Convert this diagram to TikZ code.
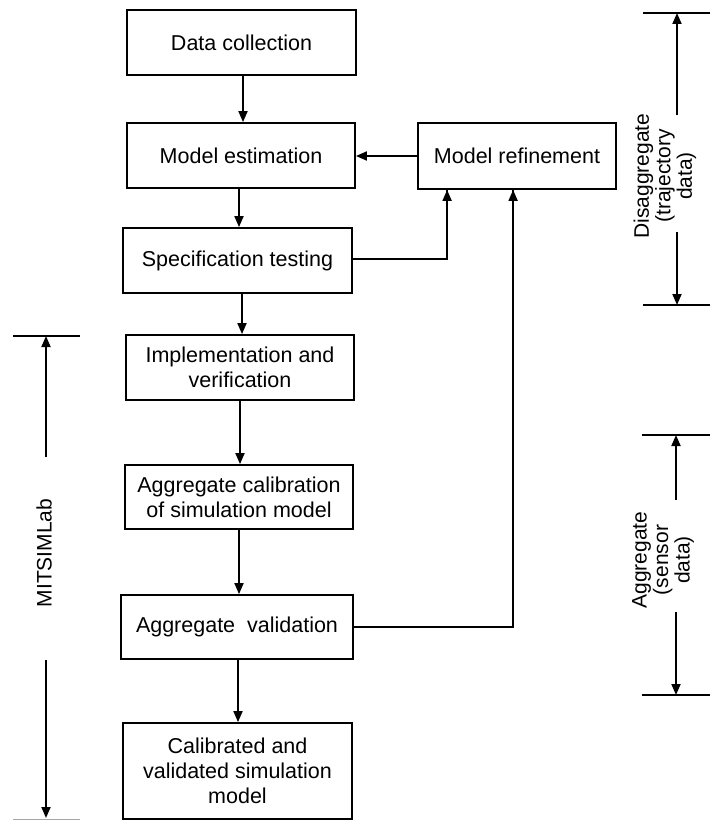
\documentclass[tikz,border=0pt]{standalone}
\usepackage{fontspec}
\setmainfont{Liberation Sans}
\usetikzlibrary{arrows.meta,calc}
\begin{document}
\begin{tikzpicture}[x=1pt,y=-1pt,
  stepbox/.style={draw,line width=1.8pt,inner sep=0pt,align=center,
    font=\fontsize{21.5}{25}\selectfont},
  flow/.style={line width=1.8pt,-{Triangle[length=11pt,width=9pt]}},
  link/.style={line width=1.8pt},
  rule/.style={line width=1.8pt},
  sidelabel/.style={rotate=90,align=center,inner sep=0pt,
    font=\fontsize{21}{21.5}\selectfont}]
\useasboundingbox (0,0) rectangle (712,821);

% main sequence of steps
\node[stepbox,minimum width=229pt,minimum height=65pt] (dc) at (241.5,42.5) {Data collection};
\node[stepbox,minimum width=228pt,minimum height=65pt] (me) at (241,155.5) {Model estimation};
\node[stepbox,minimum width=198pt,minimum height=66pt] (mr) at (517,156) {Model refinement};
\node[stepbox,minimum width=229pt,minimum height=65pt] (st) at (237.5,260.5) {Specification testing};
\node[stepbox,minimum width=228pt,minimum height=65pt] (iv) at (240,367.5) {Implementation and\\verification};
\node[stepbox,minimum width=228pt,minimum height=64pt] (ac) at (239,497) {Aggregate calibration\\of simulation model};
\node[stepbox,minimum width=232pt,minimum height=64pt] (av) at (237,627) {Aggregate~ validation};
\node[stepbox,minimum width=229pt,minimum height=96pt] (cv) at (237.5,771) {Calibrated and\\validated simulation\\model};

% downward flow
\draw[flow] ([xshift=1.5pt]dc.south) -- ([xshift=1.5pt]dc.south |- me.north);
\draw[flow] ([xshift=-2pt]me.south) -- ([xshift=-2pt]me.south |- st.north);
\draw[flow] ([xshift=4.5pt]st.south) -- ([xshift=4.5pt]st.south |- iv.north);
\draw[flow] (iv.south) -- (iv.south |- ac.north);
\draw[flow] (ac.south) -- (ac.south |- av.north);
\draw[flow] ([xshift=1pt]av.south) -- ([xshift=1pt]av.south |- cv.north);

% feedback loops through model refinement
\draw[flow] (mr.west) -- (mr.west -| me.east);
\coordinate (fbA) at ($(mr.south west)+(30,0)$);
\coordinate (fbB) at ($(mr.south west)+(96,0)$);
\draw[link] ([yshift=1.5pt]st.east) -| (fbA);
\draw[flow] ([yshift=1.5pt]st.east -| fbA) -- (fbA);
\draw[link] (av.east) -| (fbB);
\draw[flow] (av.east -| fbB) -- (fbB);

% disaggregate range (right, top)
\coordinate (dTop) at (677,13);
\coordinate (dBot) at (677,305);
\draw[rule] (643,13) -- (710,13);
\draw[rule] (643,305) -- (710,305);
\node[sidelabel] (dLab) at (665,176) {Disaggregate\\(trajectory\\data)};
\coordinate (dUp) at (677,115);
\coordinate (dDn) at (677,232);
\draw[flow] (dUp) -- (dTop);
\draw[flow] (dDn) -- (dBot);

% aggregate range (right, bottom)
\coordinate (aTop) at (676,435);
\coordinate (aBot) at (676,695);
\draw[rule] (642,435) -- (710,435);
\draw[rule] (642,695) -- (710,695);
\node[sidelabel] (aLab) at (663,560) {Aggregate\\(sensor\\data)};
\coordinate (aUp) at (676,500);
\coordinate (aDn) at (676,612);
\draw[flow] (aUp) -- (aTop);
\draw[flow] (aDn) -- (aBot);

% MITSIMLab range (left)
\coordinate (mTop) at (46,336);
\coordinate (mBot) at (46,818);
\draw[rule] (13,336) -- (80,336);
\draw[line width=1pt,black!35] (13,819) -- (80,819);
\node[sidelabel] (mLab) at (44,553) {MITSIMLab};
\coordinate (mUp) at (46,457);
\coordinate (mDn) at (46,660);
\draw[flow] (mUp) -- (mTop);
\draw[flow] (mDn) -- (mBot);
\end{tikzpicture}
\end{document}
